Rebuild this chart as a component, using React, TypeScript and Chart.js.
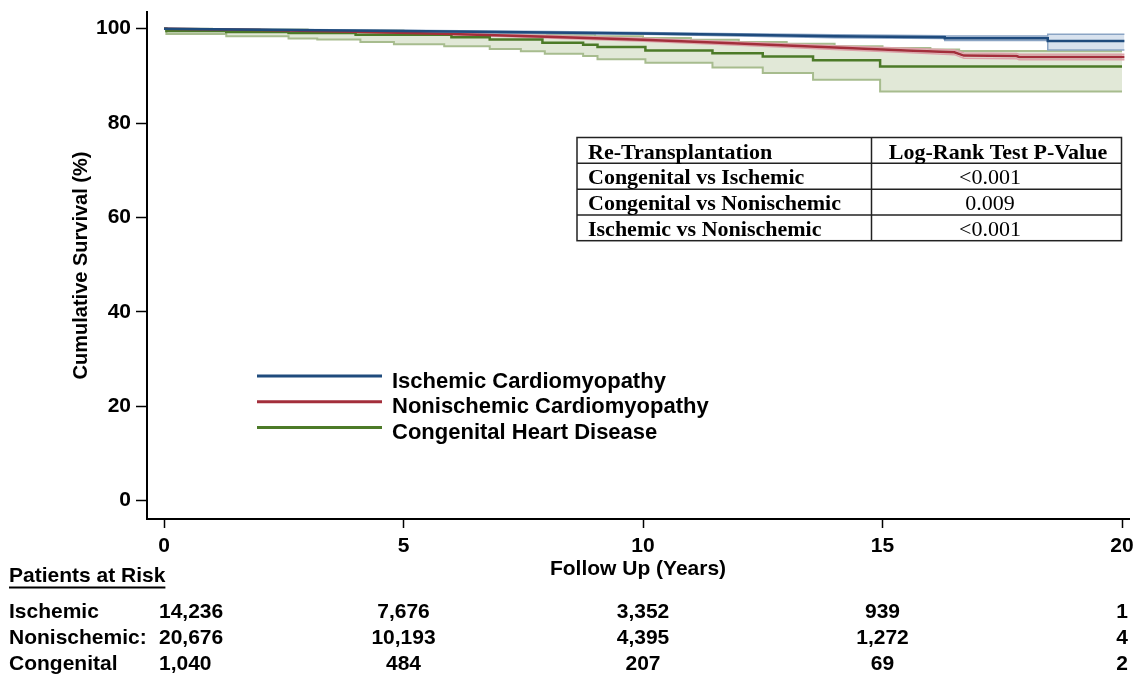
import React, { useEffect, useRef } from 'react';
import { Chart, registerables } from 'chart.js';

Chart.register(...registerables);

// ---------- data ----------
const xTicks = [0, 5, 10, 15, 20];
const yTicks = [0, 20, 40, 60, 80, 100];

// Ischemic cardiomyopathy (blue)
const ischemicTimes = [0, 2, 5, 8, 10, 12, 14, 16.3, 16.3, 18.45, 18.45, 20.05];
const ischemicSurv = [100, 99.8, 99.5, 99.2, 99.0, 98.7, 98.4, 98.2, 98.0, 98.0, 97.4, 97.4];
const ischemicUpper = [100, 99.9, 99.65, 99.4, 99.2, 98.95, 98.7, 98.5, 98.45, 98.45, 98.8, 98.8];
const ischemicLower = [100, 99.7, 99.35, 99.0, 98.8, 98.45, 98.1, 97.9, 97.5, 97.5, 95.5, 95.5];

// Nonischemic cardiomyopathy (red)
const nonischemicTimes = [0, 2, 4, 6, 8, 10, 12, 14, 15.5, 16.5, 16.7, 17.8, 17.85, 20.05];
const nonischemicSurv = [100, 99.7, 99.35, 98.9, 98.3, 97.65, 96.85, 96.0, 95.4, 95.0, 94.3, 94.2, 94.0, 94.0];
const nonischemicUpper = [100, 99.8, 99.5, 99.1, 98.55, 97.95, 97.2, 96.4, 95.85, 95.5, 94.85, 94.75, 94.6, 94.6];
const nonischemicLower = [100, 99.6, 99.2, 98.7, 98.05, 97.35, 96.5, 95.6, 94.95, 94.5, 93.75, 93.65, 93.4, 93.4];

// Congenital heart disease (green)
const congenitalTimes = [0, 0.05, 1.3, 2.6, 4.0, 6.0, 6.8, 7.9, 8.75, 9.05, 10.05, 11.45, 12.5, 13.55, 14.95, 20.0];
const congenitalSurv = [100, 99.5, 99.3, 99.1, 98.7, 98.2, 97.7, 97.0, 96.6, 96.1, 95.4, 94.8, 94.1, 93.3, 92.0, 92.0];
const congenitalLowerTimes = [0, 0.05, 1.3, 2.6, 3.2, 4.1, 4.8, 5.85, 6.8, 7.45, 7.95, 8.75, 9.05, 10.05, 11.45, 12.5, 13.55, 14.95, 20.0];
const congenitalLower = [100, 98.9, 98.4, 97.9, 97.7, 97.2, 96.7, 96.3, 95.7, 95.2, 94.7, 94.2, 93.5, 92.8, 91.8, 90.6, 89.2, 86.7, 86.7];
const congenitalUpperTimes = [0, 1, 2, 3, 4, 5, 6, 7, 8, 9, 10, 11, 12, 13, 14, 15, 16, 16.6, 20.0];
const congenitalUpper = [100, 99.95, 99.85, 99.75, 99.6, 99.45, 99.25, 99.0, 98.7, 98.4, 98.05, 97.65, 97.2, 96.8, 96.3, 95.9, 95.6, 95.3, 95.3];

const legendLabels = ['Ischemic Cardiomyopathy', 'Nonischemic Cardiomyopathy', 'Congenital Heart Disease'];

const tableHeader = ['Re-Transplantation', 'Log-Rank Test P-Value'];
const tableComparisons = ['Congenital vs Ischemic', 'Congenital vs Nonischemic', 'Ischemic vs Nonischemic'];
const tablePValues = ['<0.001', '0.009', '<0.001'];

const riskTitle = 'Patients at Risk';
const riskGroups = ['Ischemic', 'Nonischemic:', 'Congenital'];
const riskTimes = [0, 5, 10, 15, 20];
const riskIschemic = ['14,236', '7,676', '3,352', '939', '1'];
const riskNonischemic = ['20,676', '10,193', '4,395', '1,272', '4'];
const riskCongenital = ['1,040', '484', '207', '69', '2'];

// ---------- styles ----------
const SANS = '"Liberation Sans", Arial, Helvetica, sans-serif';
const SERIF = '"Liberation Serif", "Times New Roman", Times, serif';
const BLUE = '#1f4b7d';
const RED = '#a32e3b';
const GREEN = '#4c7a28';
const BLUE_CI = '#8aa4c4';
const BLUE_FILL = 'rgba(190,207,226,0.6)';
const RED_CI = '#dca3aa';
const RED_FILL = 'rgba(230,180,186,0.35)';
const GREEN_CI = '#a7bc8e';
const GREEN_FILL = 'rgba(212,222,198,0.7)';

const pts = (times: number[], vals: number[]) => times.map((t, i) => ({ x: t, y: vals[i] }));

const ds = (label: string, times: number[], vals: number[], color: string, width: number, extra: any = {}) => ({
  label,
  data: pts(times, vals),
  borderColor: color,
  borderWidth: width,
  pointRadius: 0,
  pointHoverRadius: 0,
  fill: false,
  tension: 0,
  ...extra,
});

const overlayPlugin = {
  id: 'overlay',
  afterDraw(chart: any) {
    const ctx = chart.ctx as CanvasRenderingContext2D;
    const xs = chart.scales.x;
    ctx.save();

    // Legend
    const legendColors = [BLUE, RED, GREEN];
    legendLabels.forEach((lab, i) => {
      const y = 376 + i * 25.8;
      ctx.strokeStyle = legendColors[i];
      ctx.lineWidth = 3;
      ctx.beginPath();
      ctx.moveTo(257, y);
      ctx.lineTo(382, y);
      ctx.stroke();
      ctx.fillStyle = '#000';
      ctx.font = `bold 22px ${SANS}`;
      ctx.textAlign = 'left';
      ctx.textBaseline = 'alphabetic';
      ctx.fillText(lab, 392, y + 11.5);
    });

    // Table
    const tx0 = 577, tx1 = 871.5, tx2 = 1121.5;
    const rowsY = [137.5, 163.3, 189.3, 215, 240.7];
    ctx.strokeStyle = '#222';
    ctx.lineWidth = 1.5;
    ctx.strokeRect(tx0, rowsY[0], tx2 - tx0, rowsY[4] - rowsY[0]);
    for (let i = 1; i < 4; i++) {
      ctx.beginPath();
      ctx.moveTo(tx0, rowsY[i]);
      ctx.lineTo(tx2, rowsY[i]);
      ctx.stroke();
    }
    ctx.beginPath();
    ctx.moveTo(tx1, rowsY[0]);
    ctx.lineTo(tx1, rowsY[4]);
    ctx.stroke();
    ctx.fillStyle = '#000';
    ctx.textBaseline = 'alphabetic';
    ctx.font = `bold 22px ${SERIF}`;
    ctx.textAlign = 'left';
    ctx.fillText(tableHeader[0], 588, rowsY[0] + 21);
    ctx.textAlign = 'center';
    ctx.fillText(tableHeader[1], 998, rowsY[0] + 21);
    tableComparisons.forEach((c, i) => {
      ctx.font = `bold 22px ${SERIF}`;
      ctx.textAlign = 'left';
      ctx.fillText(c, 588, rowsY[i + 1] + 21);
      ctx.font = `22px ${SERIF}`;
      ctx.textAlign = 'center';
      ctx.fillText(tablePValues[i], 990, rowsY[i + 1] + 21);
    });

    // Patients at risk
    ctx.font = `bold 21px ${SANS}`;
    ctx.textAlign = 'left';
    ctx.fillText(riskTitle, 9, 582);
    const w = ctx.measureText(riskTitle).width;
    ctx.fillRect(9, 586.5, w, 2);
    const riskRows = [riskIschemic, riskNonischemic, riskCongenital];
    riskRows.forEach((row, r) => {
      const y = 618 + r * 26;
      ctx.textAlign = 'left';
      ctx.fillText(riskGroups[r], 9, y);
      row.forEach((v, c) => {
        if (c === 0) {
          ctx.textAlign = 'left';
          ctx.fillText(v, 159, y);
        } else {
          ctx.textAlign = 'center';
          ctx.fillText(v, xs.getPixelForValue(riskTimes[c]), y);
        }
      });
    });

    ctx.restore();
  },
};

export default function App() {
  const ref = useRef<HTMLCanvasElement>(null);

  useEffect(() => {
    if (!ref.current) return;
    const tickFont = { family: SANS, size: 21, weight: 'bold' as const };
    const chart = new Chart(ref.current, {
      type: 'line',
      data: {
        datasets: [
          ds('Ischemic Cardiomyopathy', ischemicTimes, ischemicSurv, BLUE, 2.5),
          ds('Nonischemic Cardiomyopathy', nonischemicTimes, nonischemicSurv, RED, 2.5),
          ds('Congenital Heart Disease', congenitalTimes, congenitalSurv, GREEN, 2.5, { stepped: 'before' }),
          ds('Ischemic lower', ischemicTimes, ischemicLower, BLUE_CI, 1.5),
          ds('Ischemic upper', ischemicTimes, ischemicUpper, BLUE_CI, 1.5, { fill: '-1', backgroundColor: BLUE_FILL }),
          ds('Nonischemic lower', nonischemicTimes, nonischemicLower, RED_CI, 1.5),
          ds('Nonischemic upper', nonischemicTimes, nonischemicUpper, RED_CI, 1.5, { fill: '-1', backgroundColor: RED_FILL }),
          ds('Congenital lower', congenitalLowerTimes, congenitalLower, GREEN_CI, 2, { stepped: 'before' }),
          ds('Congenital upper', congenitalUpperTimes, congenitalUpper, GREEN_CI, 2, { stepped: 'before', fill: '-1', backgroundColor: GREEN_FILL }),
        ],
      },
      options: {
        animation: false,
        responsive: false,
        devicePixelRatio: 1,
        layout: { padding: { left: 0, right: 8, top: 12, bottom: 92 } },
        plugins: {
          legend: { display: false },
          tooltip: { enabled: false },
        },
        scales: {
          x: {
            type: 'linear',
            min: -0.355,
            max: 20.146,
            afterBuildTicks: (s: any) => { s.ticks = xTicks.map((v) => ({ value: v })); },
            afterFit: (s: any) => { s.height = 63; s.paddingLeft = 0; s.paddingRight = 0; },
            grid: { display: true, drawOnChartArea: false, drawTicks: true, tickLength: 9, tickColor: '#000', tickWidth: 1.5 },
            border: { display: true, color: '#000', width: 2 },
            ticks: { color: '#000', font: tickFont, padding: 6, maxRotation: 0, autoSkip: false },
            title: { display: true, text: 'Follow Up (Years)', color: '#000', font: tickFont, padding: { top: 0, bottom: 0 } },
          },
          y: {
            type: 'linear',
            min: -3.92,
            max: 103.54,
            afterBuildTicks: (s: any) => { s.ticks = yTicks.map((v) => ({ value: v })); },
            afterFit: (s: any) => { s.width = 147; s.paddingTop = 0; s.paddingBottom = 0; },
            grid: { display: true, drawOnChartArea: false, drawTicks: true, tickLength: 11, tickColor: '#000', tickWidth: 1.5 },
            border: { display: true, color: '#000', width: 2 },
            ticks: { color: '#000', font: tickFont, padding: 5 },
            title: { display: true, text: 'Cumulative Survival (%)', color: '#000', font: { family: SANS, size: 20, weight: 'bold' }, padding: { top: 69, bottom: 0 } },
          },
        },
      },
      plugins: [overlayPlugin],
    } as any);
    return () => chart.destroy();
  }, []);

  return (
    <div style={{ position: 'absolute', left: 0, top: 0, width: 1137, height: 674, background: '#fff' }}>
      <canvas ref={ref} width={1137} height={674} style={{ display: 'block', width: 1137, height: 674 }} />
    </div>
  );
}
